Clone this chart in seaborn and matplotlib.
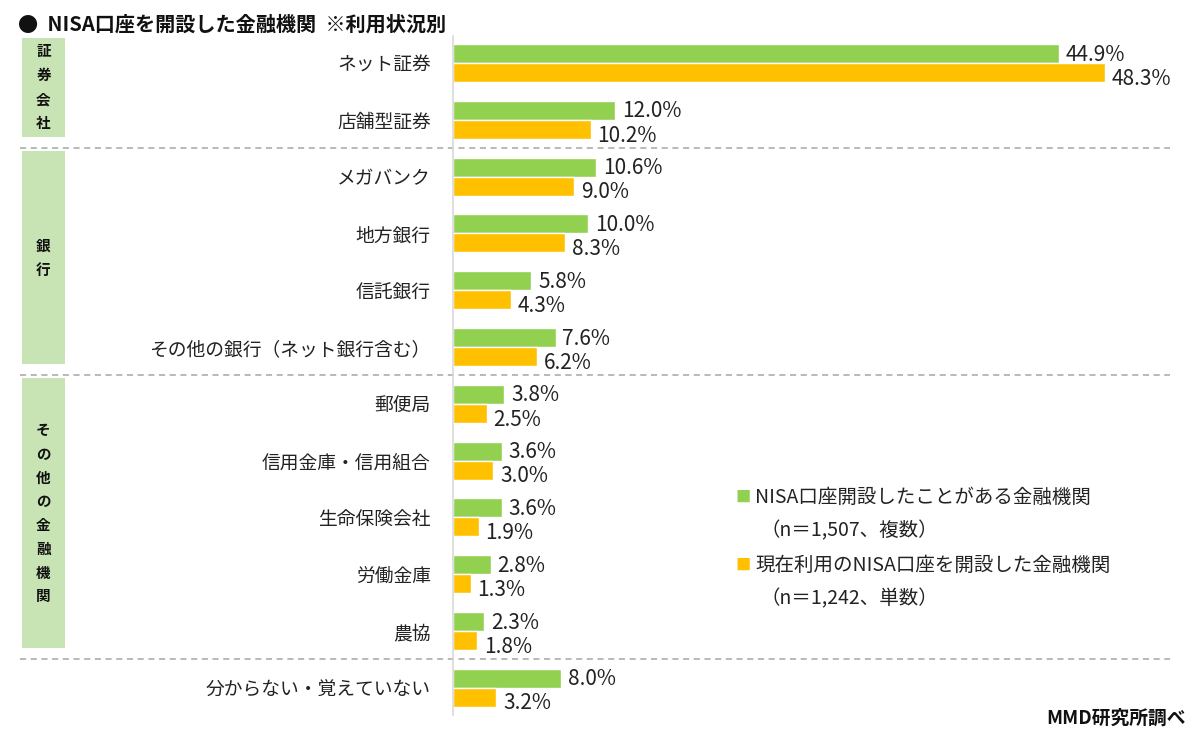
import pandas as pd
import seaborn as sns
import matplotlib.pyplot as plt
import matplotlib.transforms as mtransforms
from matplotlib.patches import Rectangle

# data
categories = ['ネット証券', '店舗型証券', 'メガバンク', '地方銀行', '信託銀行',
              'その他の銀行（ネット銀行含む）', '郵便局', '信用金庫・信用組合',
              '生命保険会社', '労働金庫', '農協', '分からない・覚えていない']
opened = [44.9, 12.0, 10.6, 10.0, 5.8, 7.6, 3.8, 3.6, 3.6, 2.8, 2.3, 8.0]
current = [48.3, 10.2, 9.0, 8.3, 4.3, 6.2, 2.5, 3.0, 1.9, 1.3, 1.8, 3.2]
series_names = ['NISA口座開設したことがある金融機関', '現在利用のNISA口座を開設した金融機関']
series_n = ['（n＝1,507、複数）', '（n＝1,242、単数）']
groups = [('証\n券\n会\n社', 0, 1), ('銀\n行', 2, 5), ('そ\nの\n他\nの\n金\n融\n機\n関', 6, 10)]

green = '#92D050'
orange = '#FFC000'

df = pd.DataFrame({
    'cat': categories * 2,
    'val': opened + current,
    'series': [series_names[0]] * len(categories) + [series_names[1]] * len(categories),
})

sns.set_style('white')
plt.rcParams['font.family'] = ['Noto Sans CJK JP', 'DejaVu Sans']

fig = plt.figure(figsize=(12, 7.46), dpi=100)
ax = fig.add_axes([0.3775, 0.0416, 0.6183, 0.9104])

sns.barplot(data=df, y='cat', x='val', hue='series', orient='h',
            palette=[green, orange], width=0.67, saturation=1,
            legend=False, ax=ax)

ax.set_xlim(0, 55)
ax.set_ylim(11.48, -0.48)
ax.set_xlabel('')
ax.set_ylabel('')
ax.set_xticks([])
ax.tick_params(axis='y', length=0, pad=16, labelsize=13.5, labelcolor='#222222')
for s in ['top', 'right', 'bottom']:
    ax.spines[s].set_visible(False)
ax.spines['left'].set_color('#d9d9d9')
ax.spines['left'].set_linewidth(1.2)

# value labels (green slightly up, orange slightly down so they don't collide)
offsets = [0.02, 0.11]
for cont, off in zip(ax.containers, offsets):
    for bar in cont:
        w = bar.get_width()
        ax.text(w + 0.5, bar.get_y() + bar.get_height() / 2 + off, f'{w:.1f}%',
                va='center', ha='left', fontsize=15, color='#222222')

# group boxes and separators
trans = mtransforms.blended_transform_factory(ax.transAxes, ax.transData)
for label, a, b in groups:
    y0 = a - 0.45
    y1 = b + 0.3
    ax.add_patch(Rectangle((-0.581, y0), 0.058, y1 - y0, transform=trans,
                           facecolor='#C9E4B4', edgecolor='none', clip_on=False))
    ax.text(-0.552, (y0 + y1) / 2, label, transform=trans, ha='center', va='center',
            fontsize=10.5, fontweight='bold', linespacing=1.6, color='#111111')

for yy in [1.5, 5.5, 10.5]:
    ax.plot([-0.584, 0.966], [yy, yy], transform=trans, color='#a6a6a6',
            linestyle=(0, (4, 3)), linewidth=1.1, clip_on=False)

# title and source
fig.text(0.015, 0.968, '●  NISA口座を開設した金融機関  ※利用状況別', fontsize=14.5,
         fontweight='bold', va='center', ha='left', color='#111111')
fig.text(0.988, 0.037, 'MMD研究所調べ', fontsize=13.5, fontweight='bold',
         va='center', ha='right', color='#111111')

# legend
leg_y = [497, 565]
for c, name, n, y in zip([green, orange], series_names, series_n, leg_y):
    fig.text(735 / 1200, 1 - y / 746, '■', color=c, fontsize=11, va='center', ha='left')
    fig.text(755 / 1200, 1 - y / 746, name, fontsize=14, va='center', ha='left', color='#222222')
    fig.text(760 / 1200, 1 - (y + 34) / 746, n, fontsize=14, va='center', ha='left', color='#222222')

fig.savefig('out.png', dpi=100, facecolor='white')
